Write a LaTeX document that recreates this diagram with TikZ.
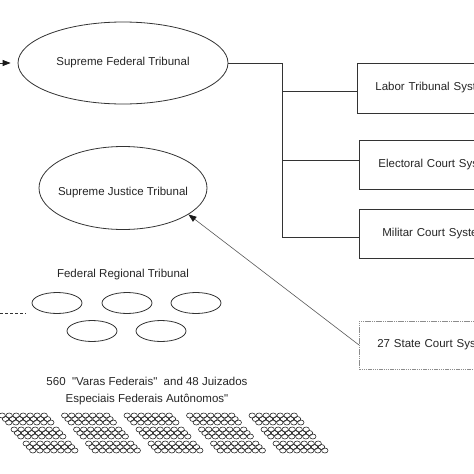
\documentclass[tikz,border=0pt]{standalone}
\usepackage{fontspec}
\setmainfont{Liberation Sans}[Ligatures=TeXOff]
\usetikzlibrary{arrows.meta,shapes.geometric}
\begin{document}
\begin{tikzpicture}[x=1pt,y=-1pt,
  line/.style={draw=black!80, line width=0.8pt},
  oval/.style={ellipse, draw=black!80, line width=0.8pt, inner sep=0pt},
  lbl/.style={font=\fontsize{11.5}{17}\selectfont, text=black!85, inner sep=0pt},
  sysbox/.style={rectangle, draw=black!80, line width=0.8pt, minimum height=50pt, text width=190pt, align=left, inner xsep=18pt, anchor=west, font=\fontsize{11.5}{14}\selectfont, text=black!85},
  statebox/.style={sysbox, draw=black!45, dash pattern=on 1.5pt off 0.7pt, line width=0.7pt},
  arr/.style={-{Triangle[length=8pt,width=6pt,color=black!90]}},
  tinyoval/.style={draw=black!85, line width=0.6pt}
]
\useasboundingbox (0,0) rectangle (474,474);
\fill[white] (0,0) rectangle (474,474);
\clip (0,0) rectangle (474,474);

% main ellipses
\node[oval, minimum width=210pt, minimum height=82pt] (sft) at (123,63) {};
\node[lbl] (sftt) at (123,62.7) {Supreme Federal Tribunal};
\node[oval, minimum width=168pt, minimum height=83pt] (sjt) at (123,188) {};
\node[lbl] (sjtt) at (123,193) {Supreme Justice Tribunal};

% systems
\node[sysbox] (labor) at (357,88) {Labor Tribunal Syst};
\node[sysbox, minimum height=49pt, inner xsep=19pt] (elect) at (359,164.5) {Electoral Court Sys};
\node[sysbox, minimum height=49pt, inner xsep=23pt] (milit) at (359,233.5) {Militar Court Syste};
\node[statebox, minimum height=48pt] (state) at (359,345) {27 State Court Syst};

% federal regional tribunals
\node[lbl] (frt) at (123,275) {Federal Regional Tribunal};
\foreach \n/\x/\y in {r1/57/303, r2/127/303, r3/196/303, r4/92/331, r5/161/331}
  \node[oval, minimum width=50pt, minimum height=21pt] (\n) at (\x,\y) {};

% varas label
\node[lbl, align=center] (varas) at (147,391.5) {560\ \ "Varas Federais"\ \ and 48 Juizados\\Especiais Federais Autônomos"};

% connectors
\coordinate (jt) at (282,63);
\coordinate (jb) at (282,237);
\coordinate (j1) at (282,91);
\coordinate (j2) at (282,160);
\draw[line] (sft.east) -- (jt) -- (jb) -- (jb -| milit.west);
\draw[line] (j1) -- (j1 -| labor.west);
\draw[line] (j2) -- (j2 -| elect.west);

\coordinate (ain) at (0,63);
\draw[line, arr, shorten >=7pt] (ain) -- (sft.west);

\draw[draw=black!65, line width=0.6pt, arr] (state.west) -- (sjt.-22);

\coordinate (dl) at (0,313);
\coordinate (dr) at (26,313);
\draw[line, dash pattern=on 3pt off 2pt] (dl) -- (dr);

% clusters of small courts
\foreach \r in {0,1,2}{
 \foreach \g in {0,...,4}{
  \foreach \s in {0,1,2}{
   \foreach \c in {0,...,6}{
     \draw[tinyoval] ({-1+12*\r+62.5*\g+3.2+3.3*\s+7*\c},{413+14*\r+2.5+3.5*\s}) ellipse [x radius=3.2, y radius=2.5];
}}}}
\end{tikzpicture}
\end{document}
